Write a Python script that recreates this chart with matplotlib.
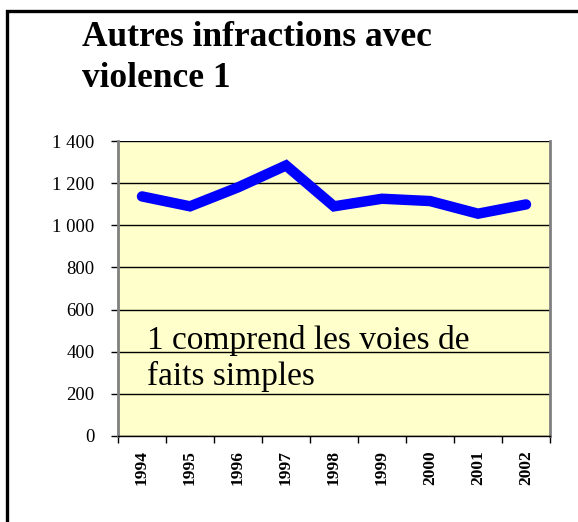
import matplotlib
matplotlib.use("Agg")
import matplotlib.pyplot as plt
from matplotlib.patches import Rectangle

years = ["1994", "1995", "1996", "1997", "1998", "1999", "2000", "2001", "2002"]
values = [1137, 1090, 1180, 1284, 1090, 1126, 1115, 1055, 1099]
yticks = [0, 200, 400, 600, 800, 1000, 1200, 1400]
ytick_labels = ["0", "200", "400", "600", "800", "1 000", "1 200", "1 400"]

serif = ["Liberation Serif", "DejaVu Serif"]

fig = plt.figure(figsize=(5.78, 5.22), dpi=100)
fig.patch.set_facecolor("white")

# outer frame (left and top edges visible)
fig.patches.append(Rectangle((6.5 / 578, -0.1), 1.2, 1 - 11 / 522 + 0.1,
                             transform=fig.transFigure, fill=False,
                             edgecolor="black", linewidth=2.4))

ax = fig.add_axes([118 / 578, 1 - 436 / 522, (550 - 118) / 578, (436 - 141) / 522])
ax.set_facecolor("#FFFFCC")
x = list(range(len(years)))
ax.plot(x, values, color="#0000FF", linewidth=7.5, solid_capstyle="round",
        solid_joinstyle="miter", zorder=3)
ax.set_xlim(-0.5, len(years) - 0.5)
ax.set_ylim(0, 1400)
ax.set_yticks(yticks)
ax.set_yticklabels(ytick_labels, fontfamily=serif, fontsize=13.5)
ax.yaxis.grid(True, color="black", linewidth=1.0)
ax.set_axisbelow(True)

ax.set_xticks([i - 0.5 for i in range(len(years) + 1)], minor=False)
ax.set_xticklabels([""] * (len(years) + 1))
ax.set_xticks(x, minor=True)
ax.set_xticklabels(years, minor=True, rotation=90, fontfamily=serif,
                   fontsize=12.5, fontweight="bold")
ax.tick_params(axis="x", which="minor", length=0, pad=10)
ax.tick_params(axis="x", which="major", length=5, direction="out", width=1)
ax.tick_params(axis="y", length=5, direction="out", width=1, pad=12)

for s in ["left", "right", "top"]:
    ax.spines[s].set_color("#808080")
    ax.spines[s].set_linewidth(2)
ax.spines["top"].set_visible(False)
ax.spines["bottom"].set_color("black")
ax.spines["bottom"].set_linewidth(1)

fig.text(82 / 578, 1 - 87 / 522, "Autres infractions avec\nviolence 1",
         fontfamily=serif, fontsize=25.5, fontweight="bold", va="baseline",
         ha="left", linespacing=1.32, multialignment="left")

fig.text(147 / 578, 1 - 385 / 522, "1 comprend les voies de\nfaits simples",
         fontfamily=serif, fontsize=24, va="baseline", ha="left",
         linespacing=1.2, zorder=4)

fig.savefig("out.png", dpi=100)
